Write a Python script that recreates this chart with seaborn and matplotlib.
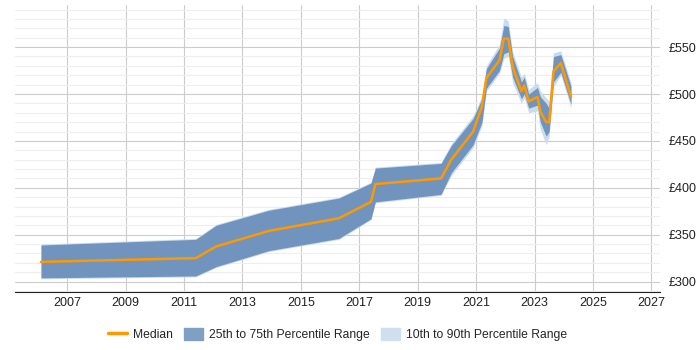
import numpy as np
import pandas as pd
import matplotlib
matplotlib.use("Agg")
import matplotlib.pyplot as plt
import matplotlib.ticker as mticker
from matplotlib.lines import Line2D
from matplotlib.patches import Patch
import seaborn as sns

# Data (decimal years, GBP daily rate)
years = [2006.1, 2011.4, 2012.1, 2013.9, 2016.3, 2017.4, 2017.55, 2019.8, 2020.15,
         2020.9, 2021.2, 2021.35, 2021.8, 2021.95, 2022.1, 2022.25, 2022.55, 2022.65,
         2022.8, 2023.1, 2023.2, 2023.4, 2023.5, 2023.65, 2023.9, 2024.25]
median = [321, 325, 337.5, 354, 367.5, 385, 404, 410, 430,
          460, 487, 517, 536, 559, 559, 529, 503, 509,
          492, 497, 481, 470, 470, 524, 533, 497]
p25 = [304, 306, 316, 333, 346, 367, 385, 393, 416,
       446, 470, 506, 525, 543, 545, 518, 495, 500,
       485, 488, 470, 455, 460, 513, 523, 489]
p75 = [339, 345, 360, 376, 389, 405, 421, 426, 445,
       474, 495, 527, 549, 573, 572, 540, 513, 518,
       500, 507, 497, 490, 485, 540, 542, 508]
p10 = [303, 305, 315, 332, 345, 366, 384, 392, 413,
       443, 466, 503, 522, 538, 540, 512, 490, 496,
       480, 482, 462, 446, 455, 508, 520, 485]
p90 = [340, 346, 361, 377, 390, 406, 422, 427, 447,
       477, 498, 530, 553, 581, 578, 545, 518, 522,
       505, 512, 503, 496, 492, 544, 546, 512]

df = pd.DataFrame({"year": years, "median": median,
                   "p10": p10, "p25": p25, "p75": p75, "p90": p90})

sns.set_style("white")
plt.rcParams["font.family"] = ["Liberation Sans", "DejaVu Sans"]

fig = plt.figure(figsize=(7, 3.5), dpi=100)
ax = fig.add_axes([0.021, 0.166, 0.922, 0.82])

c_outer = "#c9dcee"
c_inner = "#7094bd"
c_med = "#ff9900"

ax.fill_between(df["year"], df["p10"], df["p90"], color=c_outer, lw=0)
ax.fill_between(df["year"], df["p25"], df["p75"], color=c_inner, lw=0)
sns.lineplot(data=df, x="year", y="median", ax=ax, color=c_med, lw=1.8)

ax.set_xlim(2005.2, 2027.3)
ax.set_ylim(289, 595)
ax.xaxis.set_major_locator(mticker.FixedLocator(range(2007, 2028, 2)))
ax.xaxis.set_major_formatter(mticker.FuncFormatter(lambda v, p: f"{int(v)}"))
ax.yaxis.set_major_locator(mticker.MultipleLocator(50))
ax.yaxis.set_minor_locator(mticker.MultipleLocator(10))
ax.yaxis.set_major_formatter(mticker.FuncFormatter(lambda v, p: f"£{int(v)}"))
ax.yaxis.tick_right()

ax.grid(axis="x", which="major", color="#cccccc", lw=0.8)
ax.grid(axis="y", which="major", color="#cccccc", lw=0.8)
ax.grid(axis="y", which="minor", color="#eeeeee", lw=0.8)
ax.set_axisbelow(True)

for s in ["top", "left", "right"]:
    ax.spines[s].set_visible(False)
ax.spines["bottom"].set_color("#222222")
ax.tick_params(axis="both", which="both", length=0, labelsize=9, colors="#222222")
ax.tick_params(axis="y", pad=6)
ax.set_xlabel("")
ax.set_ylabel("")

handles = [Line2D([0], [0], color=c_med, lw=2.5),
           Patch(color="#7f9fc4"), Patch(color="#cfdfee")]
labels = ["Median", "25th to 75th Percentile Range", "10th to 90th Percentile Range"]
fig.legend(handles, labels, loc="center", bbox_to_anchor=(0.482, 0.045), ncol=3,
           frameon=False, fontsize=8.7, handlelength=1.6, handleheight=1.2,
           columnspacing=0.9, handletextpad=0.5)

fig.savefig("out.png", dpi=100)
